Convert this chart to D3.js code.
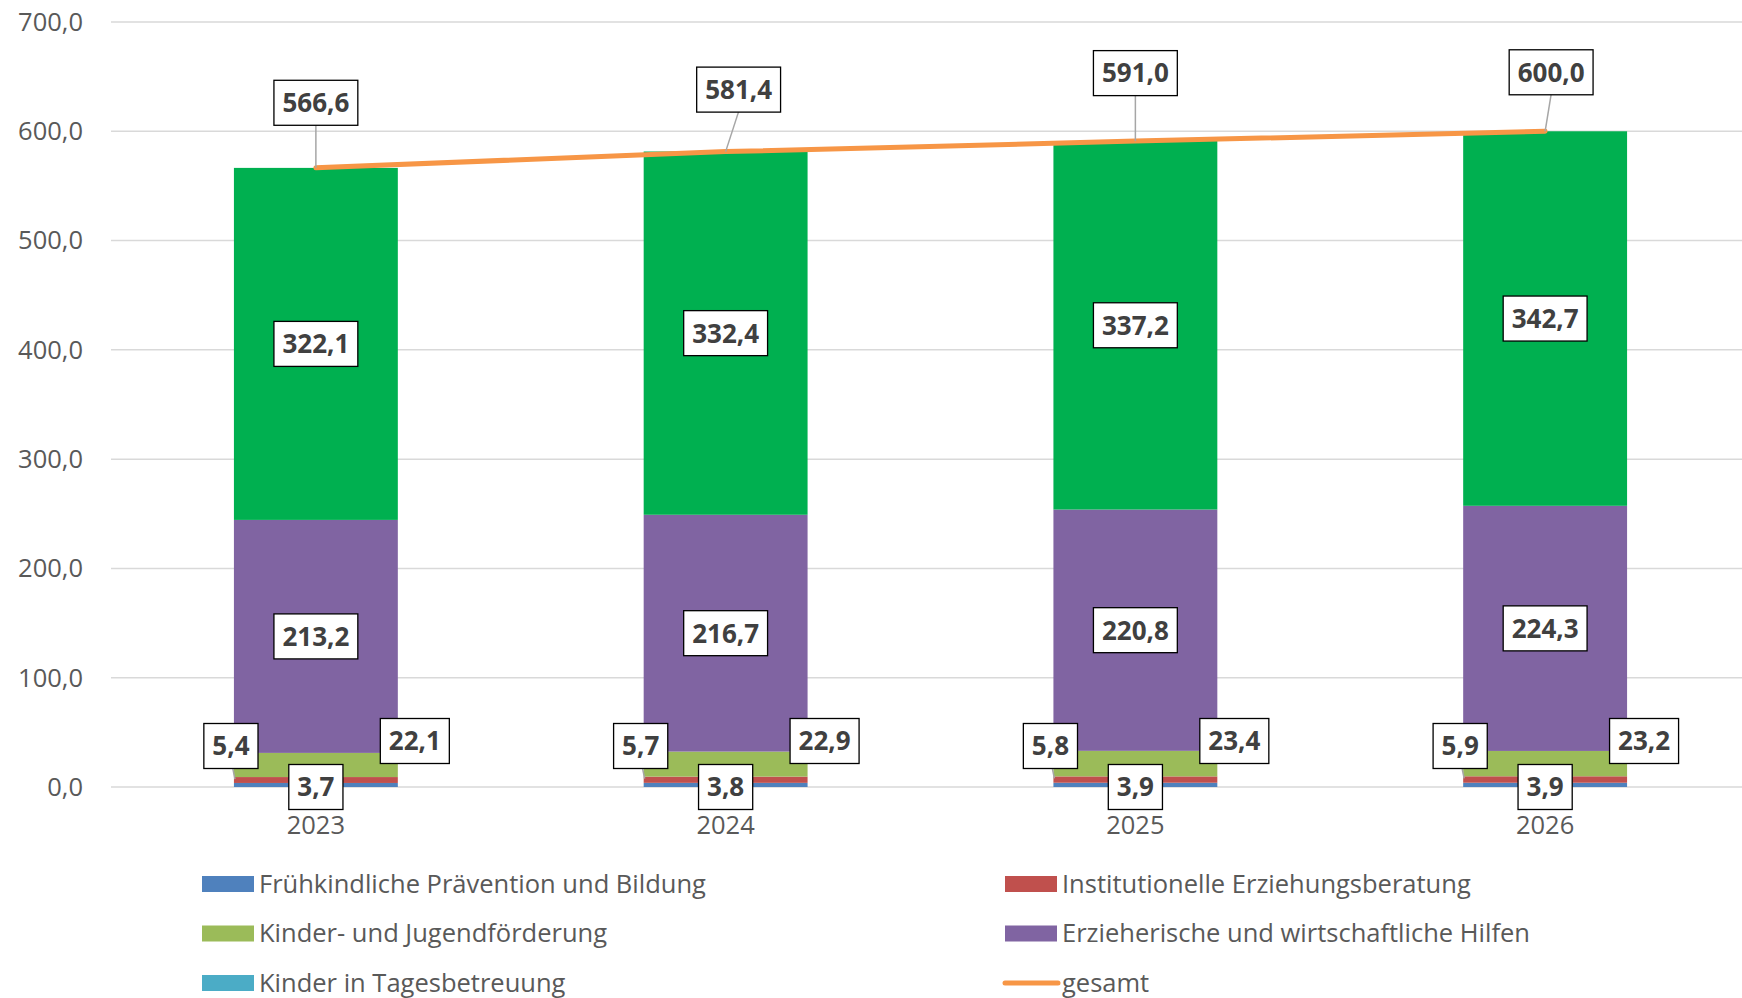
<!DOCTYPE html>
<html lang="de">
<head>
<meta charset="UTF-8">
<title>Stacked bars</title>
<script src="https://d3js.org/d3.v7.min.js"></script>
<style>
  body { margin: 0; background: #fff; }
  text { font-family: "Open Sans", sans-serif; }
</style>
</head>
<body>
<div id="chart"></div>
<script>
// data
const years = ["2023", "2024", "2025", "2026"];
const fruehkindlich = [3.7, 3.8, 3.9, 3.9];
const erziehungsberatung = [5.4, 5.7, 5.8, 5.9];
const jugendfoerderung = [22.1, 22.9, 23.4, 23.2];
const hilfen = [213.2, 216.7, 220.8, 224.3];
const tagesbetreuung = [322.1, 332.4, 337.2, 342.7];
const gesamt = [566.6, 581.4, 591.0, 600.0];
const yTicks = [0, 100, 200, 300, 400, 500, 600, 700];

const seriesNames = [
  "Frühkindliche Prävention und Bildung",
  "Institutionelle Erziehungsberatung",
  "Kinder- und Jugendförderung",
  "Erzieherische und wirtschaftliche Hilfen",
  "Kinder in Tagesbetreuung"
];
const seriesValues = [fruehkindlich, erziehungsberatung, jugendfoerderung, hilfen, tagesbetreuung];
const barColors = ["#4F81BD", "#C0504D", "#9BBB59", "#8064A2", "#00B050"];
const legendColors = ["#4F81BD", "#C0504D", "#9BBB59", "#8064A2", "#4BACC6"];
const lineColor = "#F79646";

// manual nudges of the total labels (Excel placed them by hand)
const totalLabelShift = [[0, -65], [13, -62], [0, -68], [6, -59]];

const W = 1742, H = 998;
const svg = d3.select("#chart").append("svg")
  .attr("width", W).attr("height", H);

const fmt = v => d3.format(".1f")(v).replace(".", ",");

const x = d3.scaleBand().domain(years).range([111, 1750])
  .paddingInner(0.6).paddingOuter(0.3);
const y = d3.scaleLinear().domain([0, 700]).range([787, 22]);

// gridlines
svg.append("g").selectAll("line").data(yTicks).join("line")
  .attr("x1", 111).attr("x2", W)
  .attr("y1", d => y(d)).attr("y2", d => y(d))
  .attr("stroke", "#D9D9D9").attr("stroke-width", 1.5);

// y labels
svg.append("g").selectAll("text").data(yTicks).join("text")
  .attr("x", 83).attr("y", d => y(d)).attr("dy", "0.35em")
  .attr("text-anchor", "end")
  .attr("fill", "#595959").style("font-size", "25.5px")
  .text(d => fmt(d));

// x labels
svg.append("g").selectAll("text").data(years).join("text")
  .attr("x", d => x(d) + x.bandwidth() / 2).attr("y", 825).attr("dy", "0.35em")
  .attr("text-anchor", "middle")
  .attr("fill", "#595959").style("font-size", "25.5px")
  .text(d => d);

// stacked table
const table = years.map((yr, i) => {
  const row = { year: yr };
  seriesNames.forEach((n, k) => row[n] = seriesValues[k][i]);
  return row;
});
const stacked = d3.stack().keys(seriesNames)(table);

svg.append("g").selectAll("g").data(stacked).join("g")
  .attr("fill", (d, k) => barColors[k])
  .selectAll("rect").data(d => d).join("rect")
  .attr("x", d => x(d.data.year))
  .attr("width", x.bandwidth())
  .attr("y", d => y(d[1]))
  .attr("height", d => y(d[0]) - y(d[1]));

// total line
const cx = yr => x(yr) + x.bandwidth() / 2;
svg.append("path")
  .datum(gesamt)
  .attr("d", d3.line().x((d, i) => cx(years[i])).y(d => y(d)))
  .attr("fill", "none").attr("stroke", lineColor)
  .attr("stroke-width", 5).attr("stroke-linecap", "round");

// label helper: box with bold number
const labels = svg.append("g");
function boxLabel(px, py, text) {
  const g = labels.append("g").attr("transform", `translate(${px},${py})`);
  const rect = g.append("rect").attr("fill", "#fff").attr("stroke", "#000").attr("stroke-width", 1.3);
  const t = g.append("text").attr("text-anchor", "middle").attr("dy", "0.36em")
    .attr("fill", "#404040").style("font-size", "26px").style("font-weight", "bold")
    .text(text);
  const w = t.node().getComputedTextLength() + 17;
  rect.attr("x", -w / 2).attr("y", -22.5).attr("width", w).attr("height", 45);
  return w;
}
function leader(x1, y1, x2, y2) {
  labels.append("line").attr("x1", x1).attr("y1", y1).attr("x2", x2).attr("y2", y2)
    .attr("stroke", "#A6A6A6").attr("stroke-width", 1.5);
}

years.forEach((yr, i) => {
  const c = cx(yr);
  const left = x(yr), right = x(yr) + x.bandwidth();
  const base = stacked.map(s => s[i]);

  // totals
  const [dx, dy] = totalLabelShift[i];
  leader(c + dx, y(gesamt[i]) + dy + 22, c, y(gesamt[i]));
  boxLabel(c + dx, y(gesamt[i]) + dy, fmt(gesamt[i]));

  // big segments, centered
  boxLabel(c, y((base[4][0] + base[4][1]) / 2), fmt(tagesbetreuung[i]));
  boxLabel(c, y((base[3][0] + base[3][1]) / 2), fmt(hilfen[i]));

  // small segments
  leader(left - 1, y(0) - 18, left + 1, y(base[1][1]) + 2);
  boxLabel(left - 3, y(0) - 41, fmt(erziehungsberatung[i]));
  boxLabel(right + 17, y(0) - 46, fmt(jugendfoerderung[i]));
  boxLabel(c, y(0), fmt(fruehkindlich[i]));
});

// legend
const legendItems = seriesNames.concat(["gesamt"]);
const leg = svg.append("g");
legendItems.forEach((name, i) => {
  const col = i % 2, row = Math.floor(i / 2);
  const lx = col === 0 ? 202 : 1005;
  const ly = 884 + row * 49.5;
  if (name === "gesamt") {
    leg.append("line").attr("x1", lx).attr("x2", lx + 53)
      .attr("y1", ly).attr("y2", ly)
      .attr("stroke", lineColor).attr("stroke-width", 5).attr("stroke-linecap", "round");
  } else {
    leg.append("rect").attr("x", lx).attr("y", ly - 8).attr("width", 52).attr("height", 16)
      .attr("fill", legendColors[i]);
  }
  leg.append("text")
    .attr("x", lx + 57).attr("y", ly)
    .attr("dy", "0.35em")
    .attr("fill", "#595959").style("font-size", "25.5px")
    .text(name);
});
</script>
</body>
</html>
